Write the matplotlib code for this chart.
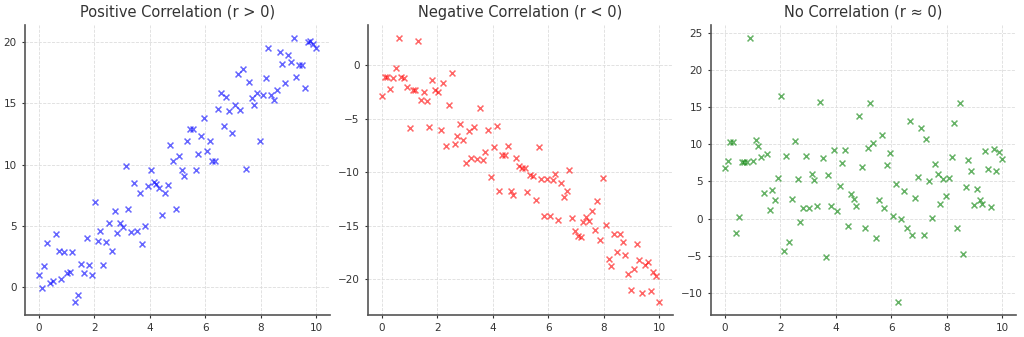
import matplotlib.pyplot as plt

# sample positions shared by all three panels (0 to 10, 100 steps)
x = [0.0, 0.1, 0.2, 0.3, 0.4, 0.51, 0.61, 0.71, 0.81, 0.91,
     1.01, 1.11, 1.21, 1.31, 1.41, 1.52, 1.62, 1.72, 1.82, 1.92,
     2.02, 2.12, 2.22, 2.32, 2.42, 2.53, 2.63, 2.73, 2.83, 2.93,
     3.03, 3.13, 3.23, 3.33, 3.43, 3.54, 3.64, 3.74, 3.84, 3.94,
     4.04, 4.14, 4.24, 4.34, 4.44, 4.55, 4.65, 4.75, 4.85, 4.95,
     5.05, 5.15, 5.25, 5.35, 5.45, 5.56, 5.66, 5.76, 5.86, 5.96,
     6.06, 6.16, 6.26, 6.36, 6.46, 6.57, 6.67, 6.77, 6.87, 6.97,
     7.07, 7.17, 7.27, 7.37, 7.47, 7.58, 7.68, 7.78, 7.88, 7.98,
     8.08, 8.18, 8.28, 8.38, 8.48, 8.59, 8.69, 8.79, 8.89, 8.99,
     9.09, 9.19, 9.29, 9.39, 9.49, 9.6, 9.7, 9.8, 9.9, 10.0]

y_pos = [1.0, -0.08, 1.7, 3.65, 0.32, 0.54, 4.36, 2.95, 0.65, 2.9,
         1.14, 1.27, 2.9, -1.19, -0.6, 1.89, 1.19, 4.06, 1.81, 1.0,
         6.96, 3.79, 4.57, 1.81, 3.73, 5.25, 2.95, 6.2, 4.41, 5.25,
         4.9, 9.93, 6.41, 4.55, 8.5, 4.63, 7.66, 3.55, 5.0, 8.25,
         9.53, 8.6, 8.42, 8.09, 5.93, 7.66, 8.36, 11.58, 10.34, 6.39,
         10.74, 9.53, 9.12, 11.91, 12.91, 12.91, 9.61, 10.88, 12.37, 13.83,
         11.12, 11.94, 10.34, 10.34, 14.53, 15.81, 13.18, 15.53, 14.4, 12.61,
         14.86, 17.37, 14.45, 17.83, 9.69, 16.78, 15.45, 14.91, 15.89, 11.96,
         15.7, 17.05, 19.49, 15.7, 15.29, 16.13, 19.19, 18.19, 16.64, 18.94,
         18.35, 20.3, 17.19, 18.13, 18.13, 16.24, 20.0, 20.08, 19.81, 19.49]

y_neg = [-2.88, -1.09, -1.09, -2.25, -1.16, -0.28, 2.5, -1.09, -1.16, -2.03,
         -5.9, -2.31, -2.31, 2.25, -3.25, -2.47, -3.34, -5.78, -1.38, -2.34,
         -2.5, -6.09, -1.69, -7.5, -3.69, -0.72, -7.31, -6.63, -5.53, -6.94,
         -9.16, -6.16, -8.66, -5.75, -8.75, -4.0, -8.88, -8.13, -6.09, -10.4,
         -7.63, -5.69, -11.72, -8.34, -8.34, -7.56, -11.78, -12.12, -8.62, -9.38,
         -9.6, -9.6, -11.87, -10.28, -10.31, -12.56, -7.59, -10.6, -14.06, -10.6,
         -14.06, -10.7, -10.2, -14.43, -11.0, -12.34, -11.72, -9.75, -14.28, -15.47,
         -15.9, -16.0, -14.66, -14.2, -14.5, -13.6, -15.37, -12.66, -16.3, -10.53,
         -14.9, -18.09, -18.75, -15.78, -17.4, -15.78, -16.47, -17.72, -19.53, -21.0,
         -19.03, -16.66, -18.19, -21.31, -18.66, -18.41, -21.09, -19.28, -19.69, -22.1]

y_none = [6.79, 7.81, 10.36, 10.27, -1.92, 0.27, 7.59, 7.59, 7.59, 24.24,
          7.81, 10.63, 9.73, 8.26, 3.44, 8.75, 1.12, 3.79, 2.54, 5.4,
          16.52, -4.38, 8.39, -3.13, 2.63, 10.4, 5.31, -0.45, 1.38, 8.39,
          1.38, 6.03, 5.22, 1.74, 15.67, 8.17, -5.13, 5.89, 1.7, 9.2,
          1.07, 4.38, 7.5, 9.29, -1.03, 3.3, 2.63, 1.7, 13.84, 7.01,
          -1.29, 9.55, 15.54, 10.18, -2.59, 2.54, 11.29, 1.43, 7.19, 8.84,
          0.31, 4.64, -11.21, -0.09, 3.71, -1.29, 13.13, -2.19, 2.77, 5.63,
          12.14, -2.19, 10.76, 5.0, 0.04, 7.28, 5.94, 1.96, 5.31, 3.04,
          5.49, 8.3, 12.9, -1.21, 15.58, -4.78, 4.2, 7.95, 6.34, 1.83,
          3.93, 2.5, 2.01, 9.15, 6.74, 1.52, 9.42, 6.47, 9.02, 8.08]

titles = ['Positive Correlation (r > 0)',
          'Negative Correlation (r < 0)',
          'No Correlation (r ≈ 0)']
colors = ['blue', 'red', 'green']

fig, axes = plt.subplots(1, 3, figsize=(10.24, 3.37), dpi=100)

for ax, y, title, c in zip(axes, [y_pos, y_neg, y_none], titles, colors):
    ax.scatter(x, y, marker='x', color=c, alpha=0.6, s=18, linewidths=1.1)
    ax.set_title(title, fontsize=10.5, color='#333333')
    ax.grid(True, linestyle='--', linewidth=0.6, color='#dddddd')
    ax.set_axisbelow(True)
    for side in ['top', 'right']:
        ax.spines[side].set_visible(False)
    for side in ['left', 'bottom']:
        ax.spines[side].set_color('#555555')
        ax.spines[side].set_linewidth(1.2)
    ax.tick_params(labelsize=7.5, colors='#333333', length=2.5, width=0.8)
    ax.set_xticks([0, 2, 4, 6, 8, 10])

plt.subplots_adjust(left=0.0244, right=0.992, bottom=0.065, top=0.925, wspace=0.125)
plt.savefig('out.png')
